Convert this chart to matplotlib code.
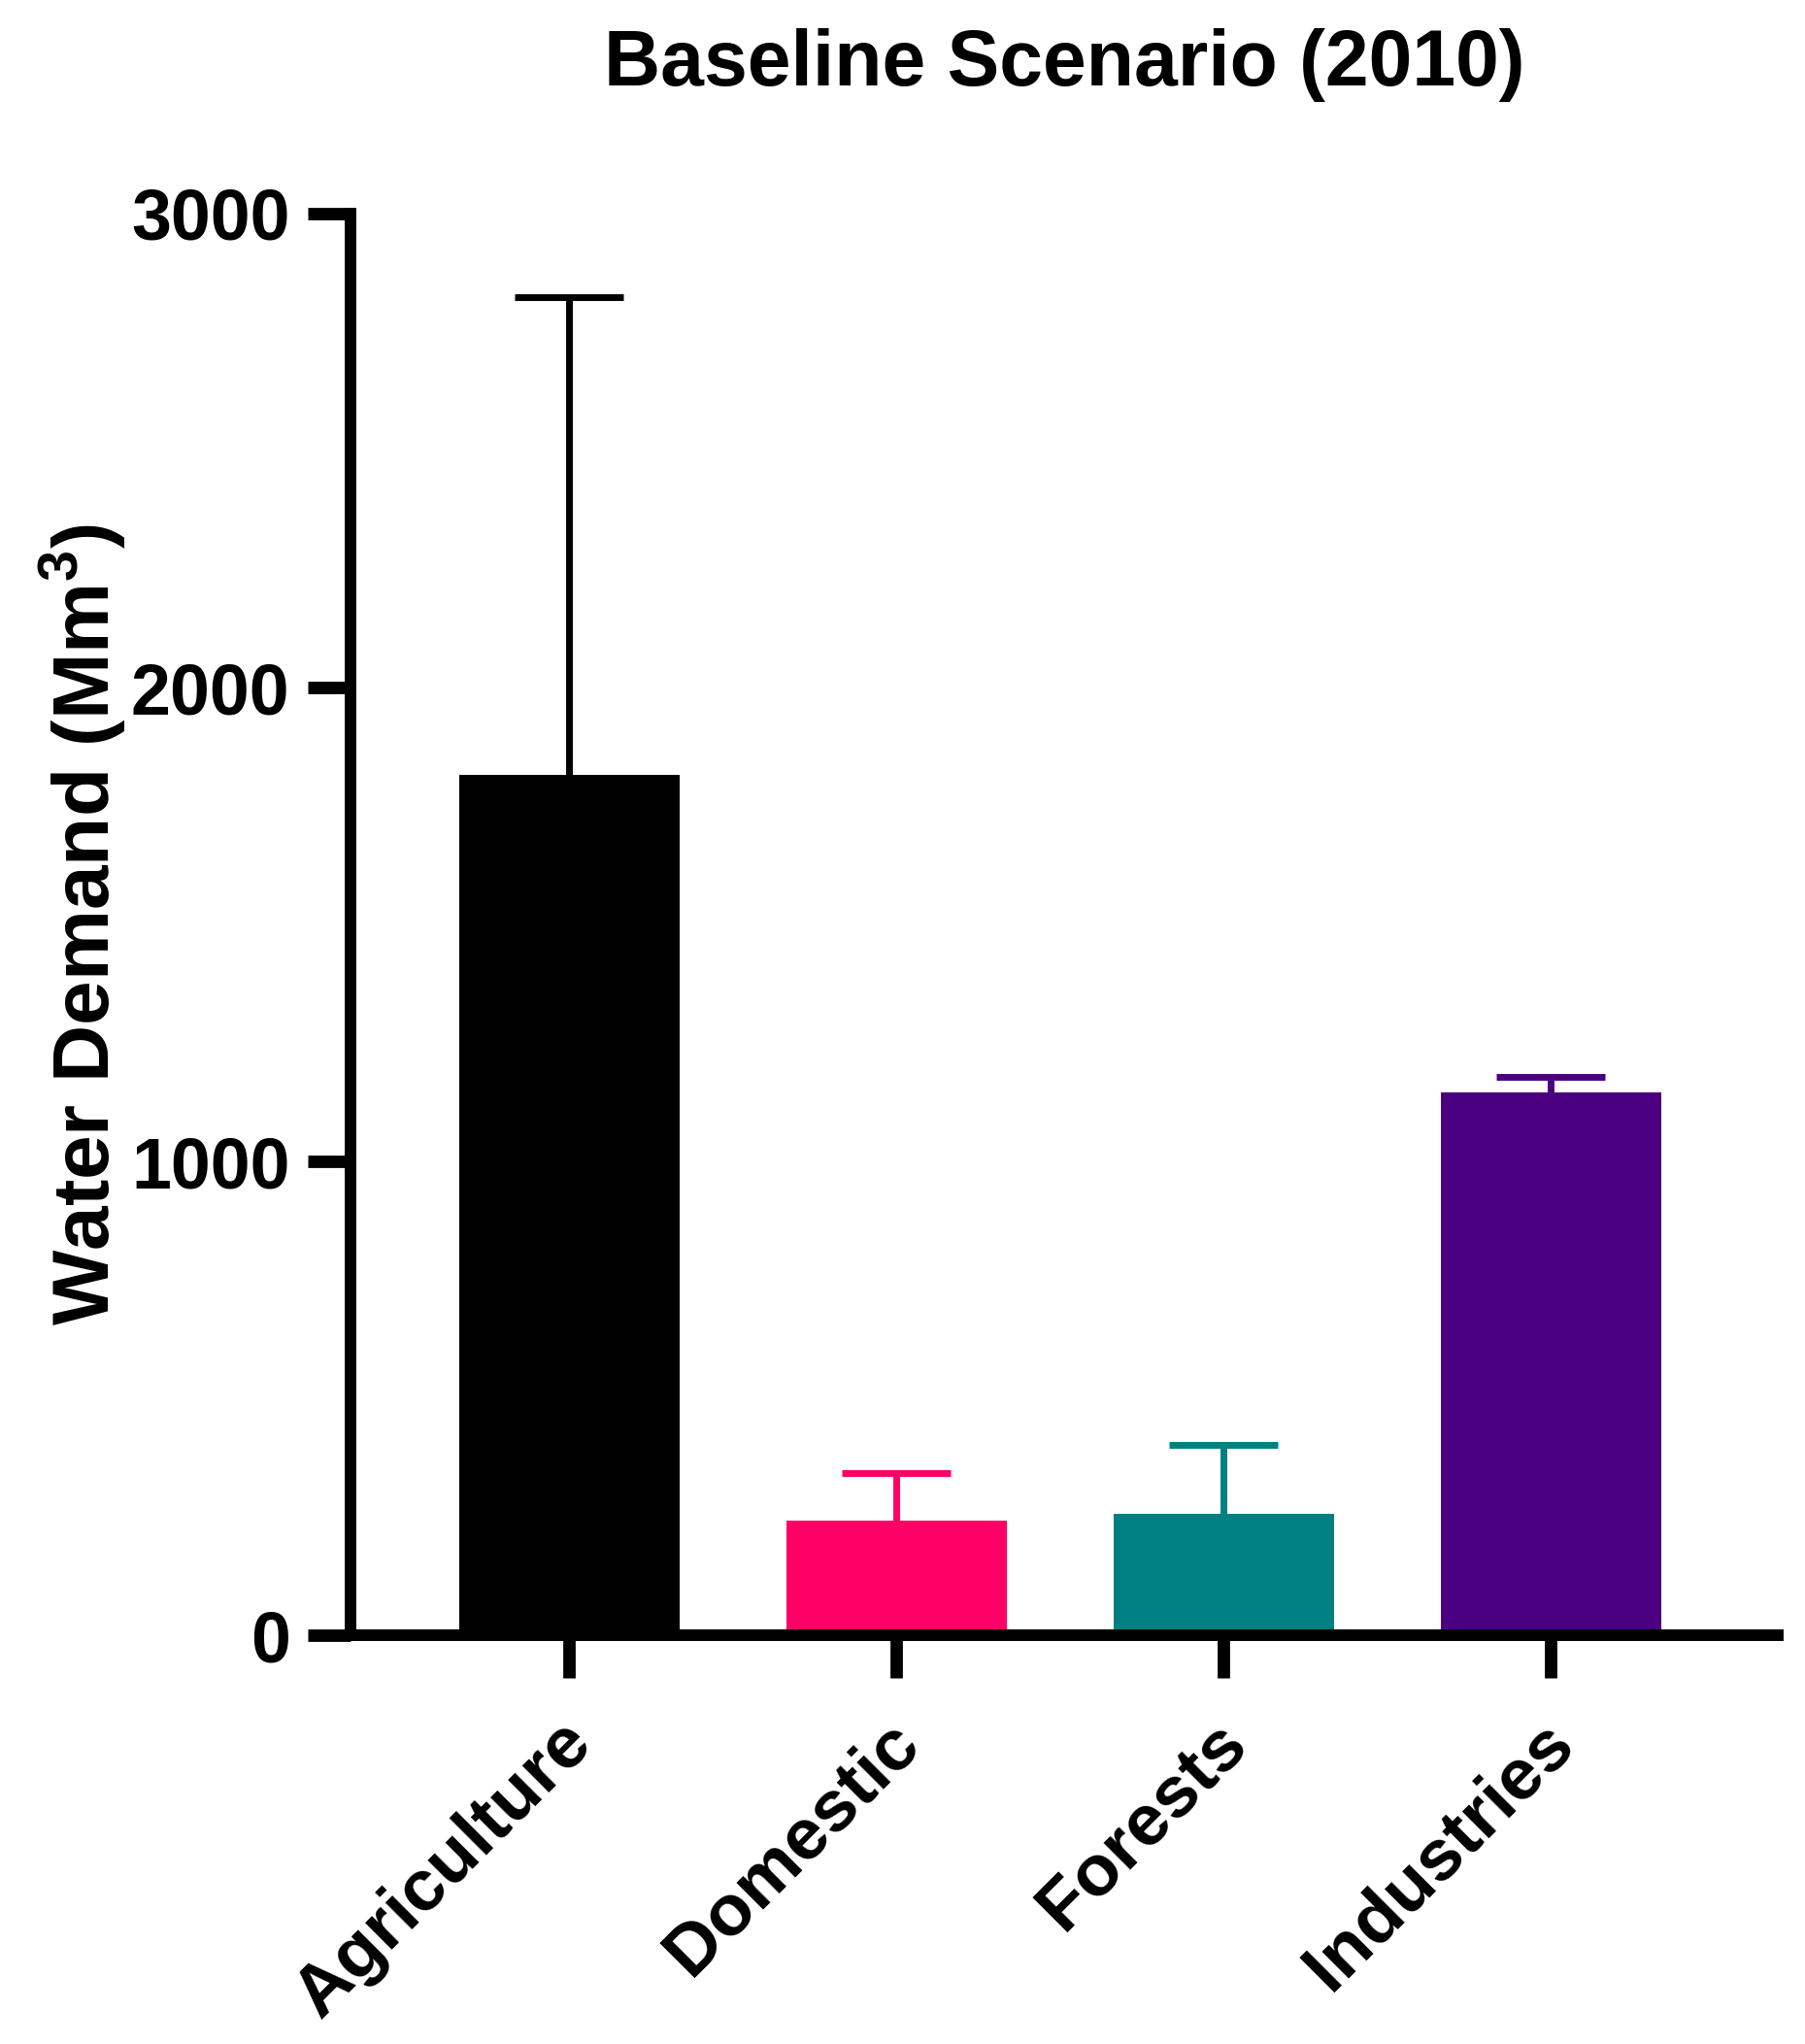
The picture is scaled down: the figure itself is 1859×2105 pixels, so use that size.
import matplotlib
matplotlib.use("Agg")
import matplotlib.pyplot as plt
import matplotlib.transforms as mtransforms
import numpy as np

categories = ["Agriculture", "Domestic", "Forests", "Industries"]
demand = [1816, 243, 257, 1146]
sd = [1008, 99, 145, 32]
colors = ["#000000", "#FF0066", "#008080", "#4B0082"]

plt.rcParams["font.family"] = ["Liberation Sans", "DejaVu Sans"]
plt.rcParams["font.weight"] = "bold"
plt.rcParams["mathtext.fontset"] = "custom"
plt.rcParams["mathtext.rm"] = "Liberation Sans:bold"
plt.rcParams["mathtext.bf"] = "Liberation Sans:bold"

fig = plt.figure(figsize=(18.59, 21.05), dpi=100)
ax = fig.add_axes([0.1942, 0.1998, 0.7908, 0.6957])

x = np.arange(len(categories))
ax.bar(x, demand, width=0.674, color=colors, zorder=2)
for i in range(len(categories)):
    eb = ax.errorbar(x[i], demand[i], yerr=[[0], [sd[i]]], fmt="none",
                     ecolor=colors[i], elinewidth=5, capsize=40, capthick=5, zorder=1)
    # only the upper cap, like the original (one-sided SD)
    for cap in eb[1]:
        if np.allclose(cap.get_ydata(), demand[i]):
            cap.set_visible(False)

ax.set_xlim(-0.669, 3.694)
ax.set_ylim(0, 3000)
ax.set_yticks([0, 1000, 2000, 3000])
ax.set_xticks(x)
ax.set_xticklabels(categories)

for side in ["top", "right"]:
    ax.spines[side].set_visible(False)
for side in ["left", "bottom"]:
    ax.spines[side].set_linewidth(8.6)
ax.spines["left"].set_capstyle("projecting")

ax.tick_params(axis="y", direction="out", length=32, width=9.2, pad=13, labelsize=53)
ax.tick_params(axis="x", direction="out", length=32, width=9.2, pad=40, labelsize=54)

offset = mtransforms.ScaledTranslation(0.12, 0, fig.dpi_scale_trans)
for lab in ax.get_xticklabels():
    lab.set_rotation(45)
    lab.set_ha("right")
    lab.set_va("center")
    lab.set_rotation_mode("anchor")
    lab.set_transform(lab.get_transform() + offset)

ax.set_ylabel("Water Demand (Mm$^{3}$)", fontsize=59, fontweight="bold")
ax.yaxis.set_label_coords(-0.156, 0.5)

fig.text(0.5896, 1 - 88 / 2105, "Baseline Scenario (2010)", ha="center", va="baseline",
         fontsize=58, fontweight="bold")

fig.savefig("out.png", dpi=100)
